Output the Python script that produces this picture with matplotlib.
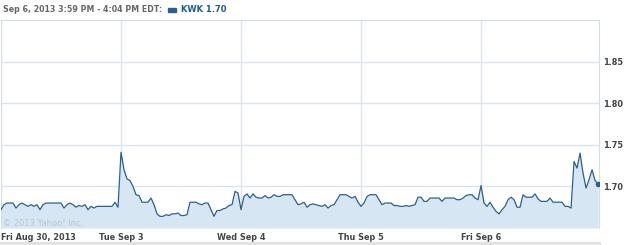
import numpy as np
import matplotlib
matplotlib.use("Agg")
from matplotlib import pyplot as plt
from matplotlib.patches import Rectangle

# KWK intraday prices, 40 samples per trading day
days = ["Fri Aug 30, 2013", "Tue Sep 3", "Wed Sep 4", "Thu Sep 5", "Fri Sep 6"]

aug30 = [1.672, 1.678, 1.680, 1.680, 1.680, 1.674, 1.678, 1.680, 1.678, 1.676,
         1.678, 1.676, 1.678, 1.672, 1.678, 1.680, 1.680, 1.680, 1.680, 1.680,
         1.680, 1.674, 1.678, 1.680, 1.678, 1.675, 1.677, 1.676, 1.678, 1.672,
         1.676, 1.674, 1.676, 1.676, 1.676, 1.676, 1.676, 1.676, 1.681, 1.675]
sep3 = [1.741, 1.720, 1.709, 1.707, 1.700, 1.690, 1.689, 1.681, 1.681, 1.681,
        1.686, 1.678, 1.667, 1.664, 1.664, 1.666, 1.665, 1.667, 1.667, 1.668,
        1.665, 1.665, 1.666, 1.681, 1.681, 1.681, 1.679, 1.678, 1.680, 1.680,
        1.672, 1.664, 1.671, 1.671, 1.673, 1.674, 1.677, 1.678, 1.694, 1.692]
sep4 = [1.672, 1.688, 1.691, 1.686, 1.691, 1.687, 1.686, 1.686, 1.689, 1.686,
        1.687, 1.690, 1.688, 1.688, 1.690, 1.690, 1.690, 1.690, 1.684, 1.678,
        1.679, 1.681, 1.675, 1.678, 1.679, 1.678, 1.677, 1.676, 1.678, 1.674,
        1.677, 1.678, 1.684, 1.690, 1.690, 1.690, 1.688, 1.686, 1.688, 1.681]
sep5 = [1.676, 1.680, 1.688, 1.690, 1.690, 1.690, 1.684, 1.678, 1.680, 1.680,
        1.680, 1.677, 1.677, 1.676, 1.676, 1.677, 1.676, 1.677, 1.678, 1.687,
        1.687, 1.682, 1.682, 1.686, 1.686, 1.686, 1.686, 1.682, 1.686, 1.686,
        1.686, 1.686, 1.684, 1.684, 1.686, 1.689, 1.690, 1.690, 1.686, 1.684]
sep6 = [1.701, 1.680, 1.676, 1.681, 1.675, 1.670, 1.667, 1.672, 1.676, 1.684,
        1.687, 1.684, 1.675, 1.675, 1.690, 1.687, 1.687, 1.687, 1.691, 1.685,
        1.682, 1.682, 1.682, 1.686, 1.681, 1.681, 1.681, 1.681, 1.676, 1.676,
        1.674, 1.730, 1.722, 1.740, 1.716, 1.698, 1.708, 1.720, 1.707, 1.703]

series = [aug30, sep3, sep4, sep5, sep6]
yticks = [1.70, 1.75, 1.80, 1.85]

x = np.concatenate([i + np.arange(len(s)) / len(s) for i, s in enumerate(series)])
y = np.concatenate(series)

line_c = "#2b5f93"
fill_c = "#d6e6f2"
grid_c = "#dce5ee"

fig = plt.figure(figsize=(6.25, 2.45), dpi=100)
ax = fig.add_axes([1 / 625, 17 / 245, 598 / 625, 208 / 245])

ax.fill_between(x, y, 1.65, color=fill_c, lw=0, zorder=1)
ax.plot(x, y, color=line_c, lw=0.9, zorder=3)
ax.plot(x[-1], y[-1], "o", color=line_c, ms=3, zorder=4)

ax.set_xlim(0, 4.983)
ax.set_ylim(1.65, 1.90)

ax.set_yticks(yticks)
ax.set_yticklabels(["%.2f" % v for v in yticks])
ax.yaxis.tick_right()
ax.set_xticks(range(len(days)))
ax.set_xticklabels(days)
ax.get_xticklabels()[0].set_horizontalalignment("left")
ax.tick_params(length=0, labelsize=5.9, labelcolor="#444444", pad=3)
ax.tick_params(axis="x", pad=3.5)
for lab in ax.get_xticklabels() + ax.get_yticklabels():
    lab.set_fontweight("bold")

ax.grid(True, color=grid_c, lw=1, zorder=0)
ax.set_axisbelow(True)
for side in ["left", "top", "right"]:
    ax.spines[side].set_color("#d5dde5")
ax.spines["bottom"].set_visible(False)

ax.text(0.02, 1.653, "\u00a9 2013 Yahoo! Inc.", fontsize=6, color="#b8c6d2",
        zorder=2)

# header
fig.text(3 / 625, 1 - 10 / 245, "Sep 6, 2013 3:59 PM - 4:04 PM EDT:",
         fontsize=5.7, fontweight="bold", color="#666666", va="center")
fig.patches.append(Rectangle((168 / 625, 1 - 12 / 245), 8 / 625, 4 / 245,
                             transform=fig.transFigure, color=line_c))
fig.text(181 / 625, 1 - 10 / 245, "KWK 1.70", fontsize=6.0, fontweight="bold",
         color="#1d5a96", va="center")

# grey band at bottom
fig.patches.append(Rectangle((0, 0), 600 / 625, 3 / 245,
                             transform=fig.transFigure, color="#e2e2e2"))

fig.savefig("out.png", dpi=100)
